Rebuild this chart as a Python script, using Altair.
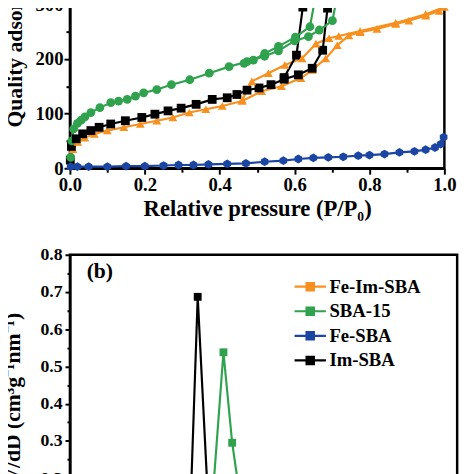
import altair as alt
import pandas as pd

FONT = "Liberation Serif"

series_names = ["Fe-Im-SBA", "SBA-15", "Fe-SBA", "Im-SBA"]
series_colors = ["#F7901E", "#30A24E", "#1A45A3", "#000000"]
series_shapes = ["triangle-up", "circle",
                 "M0,-1L0.87,-0.5L0.87,0.5L0,1L-0.87,0.5L-0.87,-0.5Z", "square"]

# ---------- panel (a): N2 adsorption-desorption isotherms ----------
fe_im_sba_p = [0.002, 0.008, 0.021, 0.04, 0.065, 0.1, 0.144, 0.188, 0.232, 0.275,
               0.319, 0.363, 0.407, 0.46, 0.512, 0.565, 0.617, 0.648, 0.683, 0.714,
               0.745, 0.775, 0.82, 0.87, 0.905, 0.95, 0.986, 1.0,
               0.95, 0.87, 0.775, 0.718, 0.692, 0.657, 0.62, 0.574, 0.53, 0.486, 0.46]
fe_im_sba_v = [15, 35, 48, 56, 63, 69, 75, 81, 87, 93,
               102, 108, 114, 123, 141, 150, 165, 180, 201, 225,
               243, 249, 255, 264, 270, 279, 288, 295,
               282, 266, 251, 242, 238, 228, 201, 189, 174, 159, 125]

sba15_p = [0.002, 0.005, 0.01, 0.02, 0.03, 0.04, 0.056, 0.08, 0.109, 0.13,
           0.153, 0.175, 0.197, 0.232, 0.271, 0.32, 0.372, 0.425, 0.473, 0.52,
           0.557, 0.6, 0.637, 0.666, 0.701, 0.718, 0.74, 0.8, 0.9, 1.0,
           0.95, 0.85, 0.75, 0.68, 0.66, 0.641, 0.602, 0.557, 0.52, 0.49, 0.465]
sba15_v = [20, 50, 72, 82, 88, 94, 102, 111, 120, 123,
           126, 132, 138, 144, 153, 162, 174, 186, 195, 205,
           215, 233, 241, 253, 270, 330, 420, 460, 480, 495,
           492, 485, 470, 440, 330, 259, 240, 223, 210, 198, 192]

fe_sba_p = [0.002, 0.02, 0.05, 0.1, 0.15, 0.2, 0.25, 0.29, 0.33, 0.37,
            0.42, 0.47, 0.52, 0.57, 0.61, 0.65, 0.69, 0.73, 0.77, 0.8,
            0.84, 0.88, 0.92, 0.95, 0.975, 0.99, 0.998]
fe_sba_v = [3, 3, 3, 3, 4, 4, 5, 6, 6, 7,
            8, 9, 12, 14, 17, 19, 20, 21, 23, 24,
            26, 29, 31, 34, 38, 44, 57]

im_sba_p = [0.001, 0.004, 0.017, 0.034, 0.056, 0.078, 0.109, 0.148, 0.192, 0.227,
            0.262, 0.297, 0.337, 0.38, 0.42, 0.446, 0.473, 0.505, 0.537, 0.572,
            0.61, 0.647, 0.675, 0.688, 0.70, 0.75, 0.85, 1.0,
            0.9, 0.7, 0.63, 0.622, 0.605, 0.572]
im_sba_v = [15, 40, 54, 63, 69, 75, 81, 87, 93, 99,
            105, 110, 117, 126, 129, 135, 143, 147, 153, 163,
            171, 183, 216, 293, 400, 440, 460, 480,
            470, 450, 400, 295, 207, 166]

# ---------- panel (b): pore size distribution ----------
fe_im_sba_d = [2.5, 3.5, 4.5, 5.5, 6.5, 7.2, 8.0, 9.0, 10.0, 12.0, 15.0, 18.0]
fe_im_sba_dv = [0.02, 0.012, 0.01, 0.015, 0.04, 0.12, 0.08, 0.03, 0.015, 0.01, 0.006, 0.004]
sba15_d = [2.5, 3.5, 4.5, 5.5, 6.5, 7.23, 7.93, 8.38, 9.06, 10.0, 12.0, 15.0, 18.0]
sba15_dv = [0.02, 0.01, 0.01, 0.01, 0.015, 0.05, 0.538, 0.295, 0.05, 0.02, 0.01, 0.006, 0.004]
fe_sba_d = [2.5, 3.5, 4.5, 5.5, 6.5, 8.0, 10.0, 12.0, 15.0, 18.0]
fe_sba_dv = [0.01, 0.008, 0.006, 0.005, 0.005, 0.004, 0.004, 0.003, 0.003, 0.002]
im_sba_d = [2.5, 3.5, 4.5, 5.5, 6.18, 6.6, 7.22, 8.0, 9.0, 11.0, 14.0, 18.0]
im_sba_dv = [0.02, 0.01, 0.01, 0.015, 0.05, 0.687, 0.05, 0.02, 0.01, 0.008, 0.005, 0.004]

x_ticks_a = [0.0, 0.1, 0.2, 0.3, 0.4, 0.5, 0.6, 0.7, 0.8, 0.9, 1.0]
y_ticks_a = [0, 50, 100, 150, 200, 250, 300, 350, 400, 450, 500]
y_ticks_b = [0.0, 0.05, 0.1, 0.15, 0.2, 0.25, 0.3, 0.35, 0.4, 0.45, 0.5,
             0.55, 0.6, 0.65, 0.7, 0.75, 0.8]
x_ticks_b = [0, 5, 10, 15, 20]
panel_label = "(b)"


def long(name, xs, ys, xname, yname):
    return pd.DataFrame({"series": name, xname: xs, yname: ys, "i": list(range(len(xs)))})


iso = pd.concat([
    long("Fe-Im-SBA", fe_im_sba_p, fe_im_sba_v, "P", "V"),
    long("Im-SBA", im_sba_p, im_sba_v, "P", "V"),
    long("SBA-15", sba15_p, sba15_v, "P", "V"),
    long("Fe-SBA", fe_sba_p, fe_sba_v, "P", "V"),
], ignore_index=True)

psd = pd.concat([
    long("Fe-Im-SBA", fe_im_sba_d, fe_im_sba_dv, "D", "dV"),
    long("Fe-SBA", fe_sba_d, fe_sba_dv, "D", "dV"),
    long("SBA-15", sba15_d, sba15_dv, "D", "dV"),
    long("Im-SBA", im_sba_d, im_sba_dv, "D", "dV"),
], ignore_index=True)

color_scale = alt.Scale(domain=series_names, range=series_colors)
shape_scale = alt.Scale(domain=series_names, range=series_shapes)

# ---- panel (a) ----
xa = alt.X("P:Q", scale=alt.Scale(domain=[0, 1], nice=False),
           axis=alt.Axis(values=x_ticks_a, format=".1f", labelFlush=False, labelOverlap=False,
                         labelExpr="round(datum.value*10) % 2 == 1 ? '' : datum.label",
                         tickSize={"condition": {"test": "round(datum.value*10) % 2 == 1", "value": 4}, "value": 6},
                         labelFontSize=19, labelPadding=2,
                         title="Relative pressure (P/P₀)", titleFontSize=23, titlePadding=3))
ya = alt.Y("V:Q", scale=alt.Scale(domain=[0, 500], nice=False),
           axis=alt.Axis(values=y_ticks_a, format="d", labelFlush=False, labelOverlap=False,
                         labelExpr="datum.value % 100 != 0 ? '' : datum.label",
                         tickSize={"condition": {"test": "datum.value % 100 != 0", "value": 4}, "value": 6},
                         labelFontSize=19, labelPadding=1,
                         title="Quality adsorbed (cm³/g)", titleFontSize=22,
                         titleAngle=270, titleAlign="left", titleBaseline="alphabetic",
                         titleX=-49, titleY=236))

base_a = alt.Chart(iso).encode(
    x=xa, y=ya,
    color=alt.Color("series:N", scale=color_scale, legend=None),
    order=alt.Order("i:Q"),
)
lines_a = base_a.mark_line(strokeWidth=2.2)
points_a = base_a.mark_point(filled=True, opacity=1, size=80).encode(
    shape=alt.Shape("series:N", scale=shape_scale, legend=None))
panel_a = alt.layer(lines_a, points_a).properties(width=381, height=278)

# ---- panel (b) ----
xb = alt.X("D:Q", scale=alt.Scale(domain=[0, 20], nice=False),
           axis=alt.Axis(values=x_ticks_b, labelFontSize=17, title="Pore diameter (nm)",
                         titleFontSize=21))
yb = alt.Y("dV:Q", scale=alt.Scale(domain=[0, 0.8], nice=False),
           axis=alt.Axis(values=y_ticks_b, format=".1f", labelFlush=False, labelOverlap=False,
                         labelExpr="round(datum.value*20) % 2 == 1 ? '' : datum.label",
                         tickSize={"condition": {"test": "round(datum.value*20) % 2 == 1", "value": 3}, "value": 5},
                         labelFontSize=18, labelPadding=3,
                         title="dV/dD (cm³g⁻¹nm⁻¹)", titleFontSize=22,
                         titleAngle=270, titleAlign="center", titleBaseline="alphabetic",
                         titleX=-51, titleY=151.5))

legend_symbol = ("M-1.45,0L1.45,0"
                 "M-0.34,-0.34L0.34,-0.34L0.34,0.34L-0.34,0.34Z"
                 "M-0.34,-0.17L0.34,-0.17M-0.34,0L0.34,0M-0.34,0.17L0.34,0.17")

legend_b = alt.Legend(title=None, orient="none", legendX=232, legendY=20,
                      symbolType=legend_symbol, symbolSize=484, symbolStrokeWidth=2.2,
                      symbolOpacity=1, labelFont=FONT, labelFontSize=19,
                      labelFontWeight="bold", labelColor="black", labelOffset=7,
                      rowPadding=2, padding=0)

base_b = alt.Chart(psd).encode(
    x=xb, y=yb,
    color=alt.Color("series:N", scale=color_scale, legend=legend_b),
    order=alt.Order("i:Q"),
)
lines_b = base_b.mark_line(strokeWidth=2.2)
points_b = base_b.mark_point(filled=True, opacity=1, size=64, shape="square")
label_b = alt.Chart(pd.DataFrame({"t": [panel_label]})).mark_text(
    font=FONT, fontSize=22, fontWeight="bold", align="left", baseline="middle", color="black"
).encode(text="t:N", x=alt.value(17), y=alt.value(17))
panel_b = alt.layer(lines_b, points_b, label_b).properties(width=394, height=303)

chart = alt.vconcat(panel_a, panel_b, spacing=88, bounds="flush").resolve_scale(
    color="independent", shape="independent"
).resolve_legend(color="independent", shape="independent").properties(
    autosize=alt.AutoSizeParams(type="none"),
    padding={"left": 63, "top": -119, "right": 403, "bottom": 585},
).configure_view(stroke="black", strokeWidth=2.5).configure_axis(
    grid=False, domainColor="black", domainWidth=2.5, tickColor="black", tickWidth=2,
    labelFont=FONT, labelFontWeight="bold", labelColor="black",
    titleFont=FONT, titleFontWeight="bold", titleColor="black",
)

chart.save("out.html", embed_options={"renderer": "svg", "actions": False})
